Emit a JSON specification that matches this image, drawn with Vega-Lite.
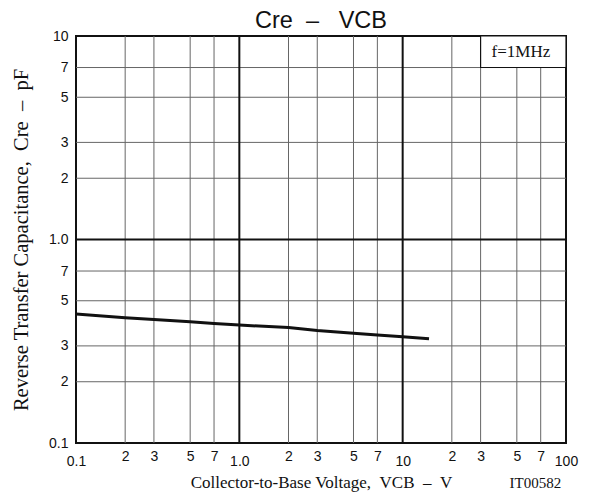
{
  "$schema": "https://vega.github.io/schema/vega-lite/v6.json",
  "width": 490,
  "height": 407,
  "autosize": {"type": "none"},
  "padding": {"left": 76, "top": 36, "right": 24, "bottom": 53},
  "background": "white",
  "title": {
    "text": "Cre \u00a0– \u00a0\u00a0VCB",
    "font": "Liberation Sans",
    "fontSize": 23.5,
    "fontWeight": "normal",
    "color": "#111",
    "offset": -3,
    "anchor": "middle"
  },
  "config": {
    "view": {"stroke": "#111", "strokeWidth": 2},
    "axis": {
      "domain": false,
      "ticks": false,
      "grid": false,
      "labelFont": "Liberation Sans",
      "labelFontSize": 14,
      "labelColor": "#111",
      "titleFont": "Liberation Serif",
      "titleFontWeight": "normal",
      "titleColor": "#111"
    }
  },
  "datasets": {
    "curve": [
      {"v": 0.1, "c": 0.43},
      {"v": 0.2, "c": 0.413},
      {"v": 0.3, "c": 0.405},
      {"v": 0.5, "c": 0.394},
      {"v": 0.7, "c": 0.387},
      {"v": 1, "c": 0.38},
      {"v": 2, "c": 0.369},
      {"v": 3, "c": 0.357},
      {"v": 5, "c": 0.346},
      {"v": 7, "c": 0.339},
      {"v": 10, "c": 0.333},
      {"v": 14.5, "c": 0.325}
    ],
    "vgrid": [{"v": 0.2}, {"v": 0.3}, {"v": 0.5}, {"v": 0.7}, {"v": 2}, {"v": 3}, {"v": 5}, {"v": 7}, {"v": 20}, {"v": 30}, {"v": 50}, {"v": 70}],
    "hgrid": [{"c": 0.2}, {"c": 0.3}, {"c": 0.5}, {"c": 0.7}, {"c": 2}, {"c": 3}, {"c": 5}, {"c": 7}],
    "vdecades": [{"v": 1}, {"v": 10}],
    "hdecades": [{"c": 1}],
    "box": [{"x1": 30, "x2": 100, "y1": 7, "y2": 10, "label": "f=1MHz", "xm": 53, "ym": 8.35}],
    "code": [{"x": 65, "y": 0.1, "label": "IT00582"}]
  },
  "layer": [
    {
      "data": {"name": "vgrid"},
      "mark": {"type": "rule", "color": "#666", "strokeWidth": 1},
      "encoding": {
        "x": {
          "field": "v", "type": "quantitative",
          "scale": {"type": "log", "domain": [0.1, 100], "nice": false},
          "axis": {
            "title": "Collector-to-Base Voltage, \u00a0VCB \u00a0– \u00a0V",
            "titleFontSize": 17,
            "titlePadding": 6,
            "values": [0.1, 0.2, 0.3, 0.5, 0.7, 1, 2, 3, 5, 7, 10, 20, 30, 50, 70, 100],
            "labelExpr": "datum.value==0.1?'0.1':datum.value==1?'1.0':datum.value==10?'10':datum.value==100?'100':slice(format(datum.value,'.0e'),0,1)",
            "labelPadding": {"condition": {"test": "datum.value==0.1||datum.value==1||datum.value==10||datum.value==100", "value": 11}, "value": 6},
            "labelFlush": false,
            "labelOverlap": false
          }
        }
      }
    },
    {
      "data": {"name": "hgrid"},
      "mark": {"type": "rule", "color": "#666", "strokeWidth": 1},
      "encoding": {
        "y": {
          "field": "c", "type": "quantitative",
          "scale": {"type": "log", "domain": [0.1, 10], "nice": false},
          "axis": {
            "title": "Reverse Transfer Capacitance, \u00a0Cre \u00a0– \u00a0pF",
            "titleFontSize": 20.5,
            "titlePadding": 17,
            "values": [0.1, 0.2, 0.3, 0.5, 0.7, 1, 2, 3, 5, 7, 10],
            "labelExpr": "datum.value==0.1?'0.1':datum.value==1?'1.0':datum.value==10?'10':slice(format(datum.value,'.0e'),0,1)",
            "labelPadding": 8,
            "labelFlush": false,
            "labelOverlap": false
          }
        }
      }
    },
    {
      "data": {"name": "vdecades"},
      "mark": {"type": "rule", "color": "#111", "strokeWidth": 2},
      "encoding": {"x": {"field": "v", "type": "quantitative"}}
    },
    {
      "data": {"name": "hdecades"},
      "mark": {"type": "rule", "color": "#111", "strokeWidth": 2},
      "encoding": {"y": {"field": "c", "type": "quantitative"}}
    },
    {
      "data": {"name": "curve"},
      "mark": {"type": "line", "color": "#111", "strokeWidth": 3, "clip": true},
      "encoding": {
        "x": {"field": "v", "type": "quantitative"},
        "y": {"field": "c", "type": "quantitative"}
      }
    },
    {
      "data": {"name": "box"},
      "mark": {"type": "rect", "fill": "white", "stroke": "#111", "strokeWidth": 1.2},
      "encoding": {
        "x": {"field": "x1", "type": "quantitative"},
        "x2": {"field": "x2"},
        "y": {"field": "y1", "type": "quantitative"},
        "y2": {"field": "y2"}
      }
    },
    {
      "data": {"name": "box"},
      "mark": {"type": "text", "font": "Liberation Serif", "fontSize": 17, "color": "#111", "align": "center", "baseline": "middle"},
      "encoding": {
        "x": {"field": "xm", "type": "quantitative"},
        "y": {"field": "ym", "type": "quantitative"},
        "text": {"field": "label"}
      }
    },
    {
      "data": {"name": "code"},
      "mark": {"type": "text", "font": "Liberation Serif", "fontSize": 15, "color": "#111", "align": "center", "baseline": "middle", "dy": 40, "clip": false},
      "encoding": {
        "x": {"field": "x", "type": "quantitative"},
        "y": {"field": "y", "type": "quantitative"},
        "text": {"field": "label"}
      }
    }
  ]
}
